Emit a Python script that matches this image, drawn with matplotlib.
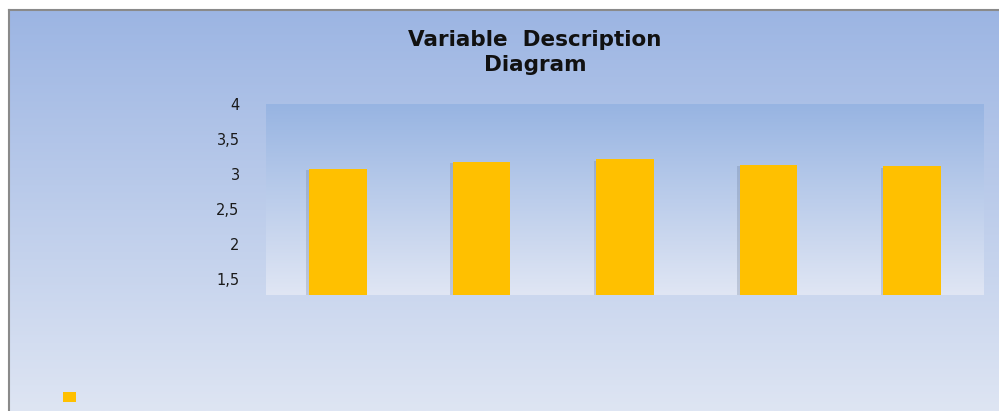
import numpy as np
import matplotlib.pyplot as plt
import matplotlib.patheffects as pe
from matplotlib.patches import Rectangle
from matplotlib.ticker import FixedLocator, FixedFormatter

# values
categories = ['V1', 'V2', 'V3', 'V4', 'V5']
values = [3.07, 3.17, 3.21, 3.13, 3.11]
ytick_vals = [1.5, 2, 2.5, 3, 3.5, 4]
ytick_labels = ['1,5', '2', '2,5', '3', '3,5', '4']

plt.rcParams['font.family'] = ['DejaVu Sans']

fig = plt.figure(figsize=(9.99, 4.11), dpi=100)
fig.patch.set_facecolor('white')


def vgrad(top, bottom, n=256):
    t = np.linspace(0, 1, n)[:, None]
    top = np.array(top) / 255.0
    bottom = np.array(bottom) / 255.0
    img = top + (bottom - top) * t
    return img[:, None, :]


# chart area background
bg = fig.add_axes([9 / 999, 0, 990 / 999, 401 / 411], zorder=0)
bg.imshow(vgrad((156, 181, 227), (222, 229, 243)), aspect='auto', extent=[0, 1, 0, 1])
bg.set_xticks([])
bg.set_yticks([])
for s in ['right', 'bottom']:
    bg.spines[s].set_visible(False)
for s in ['left', 'top']:
    bg.spines[s].set_color('#8a8a8a')
    bg.spines[s].set_linewidth(1.5)

# plot area
ax = fig.add_axes([266 / 999, 116 / 411, 718 / 999, 191 / 411], zorder=1)
ymin, ymax = 1.27, 4.0
ax.imshow(vgrad((151, 180, 226), (224, 230, 244)), aspect='auto',
          extent=[-0.5, len(categories) - 0.5, ymin, ymax], zorder=0)

x = np.arange(len(categories))
bars = ax.bar(x, np.array(values) - ymin, bottom=ymin, width=0.4, color='#FFC000',
              zorder=2)
for b in bars:
    b.set_path_effects([pe.SimplePatchShadow(offset=(-2, -1), shadow_rgbFace='#5d6f8e', alpha=0.25),
                        pe.Normal()])

ax.set_xlim(-0.5, len(categories) - 0.5)
ax.set_ylim(ymin, ymax)
ax.set_xticks([])
ax.yaxis.set_major_locator(FixedLocator(ytick_vals))
ax.yaxis.set_major_formatter(FixedFormatter(ytick_labels))
ax.tick_params(axis='y', length=0, pad=19, labelsize=10.5, labelcolor='#1a1a1a')
for s in ax.spines.values():
    s.set_visible(False)

fig.text(535 / 999, 1 - 40 / 411, 'Variable  Description', ha='center', va='center',
         fontsize=15.5, fontweight='bold', color='#111111')
fig.text(535 / 999, 1 - 65 / 411, 'Diagram', ha='center', va='center',
         fontsize=15.5, fontweight='bold', color='#111111')

swatch = Rectangle((0, 0), 1, 1, facecolor='#FFC000')
fig.legend(handles=[swatch], labels=[''], loc='center left',
           bbox_to_anchor=(50 / 999, 1 - 398 / 411), frameon=False,
           handlelength=1.0, handleheight=0.7, fontsize=10)

fig.savefig('out.png', dpi=100)
